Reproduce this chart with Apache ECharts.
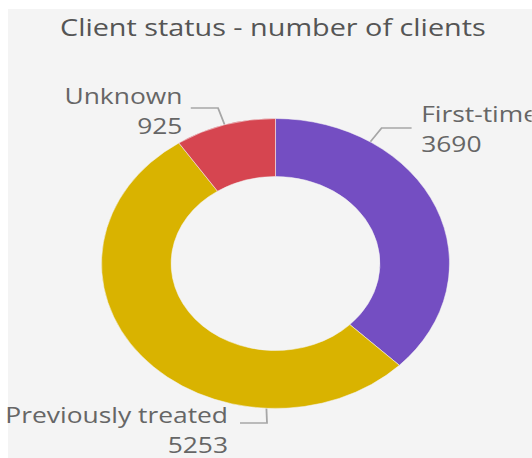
<!DOCTYPE html>
<html>
<head>
<meta charset="utf-8">
<script src="https://cdn.jsdelivr.net/npm/echarts@6/dist/echarts.min.js"></script>
<style>
    html, body { margin: 0; padding: 0; width: 532px; height: 458px; overflow: hidden; background: #fff; }
    #panel { position: absolute; left: 8px; top: 9px; right: 0; bottom: 0; background: #F4F4F4; }
    /* the reference picture is stretched sideways, so the chart is drawn narrow and scaled */
    #chart { position: absolute; left: 0; top: 0; width: 443.33px; height: 458px; transform: scaleX(1.2); transform-origin: 0 0; }
</style>
</head>
<body>
<div id="panel"></div>
<div id="chart"></div>
<script>
const categories = ['First-time', 'Previously treated', 'Unknown'];
const clientCounts = [3690, 5253, 925];
const sliceColors = ['#744EC2', '#D9B300', '#D64550'];

const pieCenter = [229.6, 263.5];
const innerR = 87;
const outerR = 145;

// label placement, Power BI style (unscaled px); anchor angle is degrees clockwise from 12 o'clock
const labelPlaces = [
    { x: 351, y: 128, align: 'left', angle: 33, bend: [318, 128], end: [343, 128] },
    { x: 190, y: 429, align: 'right', angle: 183, bend: [222.5, 423], end: [200, 423] },
    { x: 152, y: 110, align: 'right', angle: 343, bend: [181.7, 108], end: [159, 108] }
];

function anchorOf(deg) {
    const a = deg * Math.PI / 180;
    return [pieCenter[0] + outerR * Math.sin(a), pieCenter[1] - outerR * Math.cos(a)];
}

const myChart = echarts.init(document.getElementById('chart'), null, { renderer: 'svg' });

const option = {
    backgroundColor: 'transparent',
    title: {
        text: 'Client status - number of clients',
        left: 45,
        top: 10,
        textStyle: {
            fontFamily: '"Segoe UI", "Open Sans", sans-serif',
            fontSize: 24,
            fontWeight: 'normal',
            color: '#555555'
        }
    },
    series: [{
        type: 'pie',
        center: pieCenter,
        radius: [innerR, outerR],
        startAngle: 90,
        clockwise: true,
        avoidLabelOverlap: false,
        itemStyle: {
            borderColor: '#F4F4F4',
            borderWidth: 0.5
        },
        label: {
            show: true,
            formatter: '{b}\n{c}',
            fontFamily: '"Segoe UI", "Open Sans", sans-serif',
            fontSize: 22,
            lineHeight: 30,
            color: '#666666'
        },
        labelLine: {
            show: true,
            lineStyle: { color: '#A6A6A6', width: 1.5 }
        },
        labelLayout: function (params) {
            const p = labelPlaces[params.dataIndex];
            return {
                x: p.x,
                y: p.y,
                align: p.align,
                verticalAlign: 'middle',
                labelLinePoints: [anchorOf(p.angle), p.bend, p.end]
            };
        },
        emphasis: { disabled: true },
        data: categories.map((name, i) => ({
            name: name,
            value: clientCounts[i],
            itemStyle: { color: sliceColors[i] }
        }))
    }]
};

myChart.setOption(option);
</script>
</body>
</html>
